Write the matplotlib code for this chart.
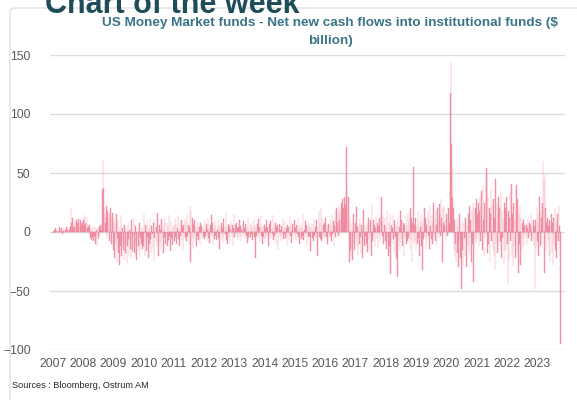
import datetime
import matplotlib
matplotlib.use("Agg")
import matplotlib.pyplot as plt
import matplotlib.dates as mdates
from matplotlib.patches import FancyBboxPatch

plt.rcParams['font.family'] = ['Liberation Sans', 'DejaVu Sans']

# weekly net new cash (USD bn), one list per calendar year
flows_2007 = [1, -1, 2, 0, 3, -2, 1, 2, -1, 0, 2, 4, -1, 1, 3, 0, -2, 2, 1, 3, 0, 2, -1, 4, 1, 2, 3, 1, 2, 5, 4,
              20, 8, 12, 5, 3, 7, 4, 9, 6, 10, 3, 8, 5, 11, 7, 4, 9, 12, 6, 3, 8]
flows_2008 = [10, 14, 6, 13, 8, 5, 12, 3, 7, 4, -2, 6, -5, 3, -7, 2, -4, 5, -8, -3,
              4, -10, -6, 2, -12, 3, -5, 5, 4, -3, 6, 2, 8, 36, 61, 37, 20, 15, 8, 12,
              22, -5, 18, 10, 15, -8, 14, 20, 12, -10, 16, 8]
flows_2009 = [-15, 12, -22, 8, -10, 15, -25, -5, 10, -18, -28, 5, -12, 14, -20, -8, 3, -15, -24, 6,
              -10, -18, 4, -26, -12, 8, -6, -20, 2, -14, -22, 10, -8, -16, -4, 12, -18, -10, 5, -20,
              -24, -6, 3, -12, -16, 8, -22, -5, -10, 4, -14, -8]
flows_2010 = [-12, 15, -20, 6, -8, -16, 10, -4, -22, 3, -10, 12, -6, -18, 5, -2, -14, 8, -25, -5,
              10, -8, 4, -12, 16, -3, -20, 6, -9, 2, -15, 11, -6, 3, -18, 7, -4, 13, -10, -2,
              8, -12, 5, -7, 14, -3, -16, 9, -5, 2, -11, 6]
flows_2011 = [5, -8, 12, -4, 7, -10, 3, 14, -6, 2, -12, 8, -3, 10, -7, 4, -15, 6, -2, 11,
              -5, 9, -8, 15, -3, 6, -10, 4, 22, -25, 18, -6, 12, -14, 7, -4, 10, -8, 3, -12,
              6, -3, 9, -7, 4, -10, 8, -2, 5, -6, 3, -4]
flows_2012 = [4, -6, 10, -3, 7, -8, 2, 12, -5, 3, -9, 6, -2, 14, -4, 8, -11, 3, -6, 9,
              -3, 5, -7, 2, 10, -5, 4, -14, 6, -2, 8, -6, 3, -9, 11, -4, 5, -2, 16, -7,
              4, -10, 7, -3, 5, -8, 2, 9, -4, 6, -12, 3]
flows_2013 = [15, -4, 6, -2, 8, -5, 3, -7, 4, 10, -3, 5, -8, 2, 6, -4, 9, -2, 3, -6,
              7, -3, 4, -9, 12, -5, 2, 6, -4, 8, -2, 5, -7, 3, 10, -4, 6, -22, 4, -3,
              7, -5, 11, -2, 4, -8, 14, -3, 6, -10, 5, -4]
flows_2014 = [6, -8, 3, -5, 10, -3, 4, -12, 2, 7, -4, 9, -6, 3, -2, 14, -7, 5, -3, 8,
              -10, 4, -2, 6, -15, 3, 7, -4, 2, -8, 5, -3, 11, -6, 4, -2, 9, -5, 3, -12,
              6, -2, 4, -7, 13, -3, 5, -9, 2, 7, -4, 3]
flows_2015 = [10, -5, 3, -8, 6, -2, 12, -4, 5, -10, 3, 8, -6, 4, -3, 15, -7, 2, -5, 9,
              -2, 6, -12, 4, -4, 8, -3, 5, -16, 3, 7, -5, 2, -8, 11, -3, 4, -6, 10, -2,
              -20, 5, 18, -4, 8, -6, 20, -8, 12, -5, 6, -3]
flows_2016 = [8, -6, 12, -4, 5, -10, 3, 7, -5, 10, -3, 6, -8, 14, -2, 9, -12, 5, 18, -4,
              12, 20, 8, 15, -3, 22, 10, 18, 6, 25, 14, 28, 12, 20, 30, 16, 24, 12, 72, 40,
              22, 30, -8, -25, 12, -15, -20, 8, -24, -10, 15, -6]
flows_2017 = [-15, 8, -6, 21, -12, 4, -20, 8, -10, 12, -4, -18, 6, -22, 3, 19, -8, -12, 5, -3,
              -10, 8, -17, 4, 12, -6, -15, 10, -3, -20, 23, -8, 10, -4, 6, -12, 3, 14, -6, 8,
              -14, 5, -2, 12, -8, 16, 30, 9, -3, 14, -10, 6]
flows_2018 = [12, -8, 4, -14, 18, -5, -20, 8, -12, 15, -36, 6, -10, 3, 14, -6, -18, 10, -4, 8,
              -22, 5, -38, 12, -8, 4, -15, 18, -6, 10, -12, 3, 8, -20, 6, -4, 14, -10, 5, -8,
              16, -5, 9, -15, 20, -6, 12, -25, 8, 55, -10, 6]
flows_2019 = [-8, 12, -15, 6, -10, 18, -5, 9, -20, 4, 15, -12, 8, -32, 10, -6, 20, -4, 12, -15,
              6, -8, 18, -3, 10, -14, 22, 5, -6, 14, -10, 8, 25, -4, 12, -8, 18, 6, -12, 20,
              10, -5, 24, 15, -3, 28, 12, -25, 20, 8, 22, 5]
flows_2020 = [10, -8, 15, 5, -3, 12, 20, 8, 35, 118, 144, 75, 55, 30, 20, -15, 10, -20, -10, -25,
              12, -18, 5, -30, -8, 15, -22, -12, -48, 8, -15, -28, 10, -5, -20, 12, -8, -30, 6, -12,
              15, -18, 22, -6, 10, -25, 18, -10, 25, -42, 20, -8]
flows_2021 = [20, -10, 28, -6, 15, 25, -12, 18, 30, -8, 22, 35, -15, 40, 10, -20, 25, -5, 44, 54,
              50, -18, 30, -10, 20, -25, 15, 36, -8, 22, -15, 28, -20, 12, -32, 45, -10, 25, -18, 15,
              30, -12, 20, -8, 35, -22, 18, -5, 12, -28, 25, -15]
flows_2022 = [20, -15, 30, -10, -44, 18, -25, 12, 35, -8, 41, -20, 15, -30, 25, -12, 10, -22, 37, 40,
              -18, 28, -35, 15, -10, 22, -28, 12, -15, 8, -6, 10, -12, 5, 8, -4, 6, -10, 3, 12,
              -5, 8, -3, 6, 15, -8, 4, -6, 10, -12, 5, -48]
flows_2023 = [10, -15, 20, -8, 15, -20, 8, 30, -12, 18, 12, -10, 25, 60, 45, -35, 48, 20, -15, 8,
              12, -8, 5, -20, 10, -25, 6, 15, -18, 8, -28, 12, -10, 20, -15, 8, -22, 10, 15, -8,
              23, 5, -20, -95]

yearly = [flows_2007, flows_2008, flows_2009, flows_2010, flows_2011, flows_2012,
          flows_2013, flows_2014, flows_2015, flows_2016, flows_2017, flows_2018,
          flows_2019, flows_2020, flows_2021, flows_2022, flows_2023]

flows = []
for year_vals in yearly:
    flows.extend(year_vals)

first_week = datetime.date(2007, 1, 5)
weeks = [first_week + datetime.timedelta(weeks=i) for i in range(len(flows))]

years = list(range(2007, 2024))
y_ticks = [-100, -50, 0, 50, 100, 150]

title_col = '#3a7487'
grey_txt = '#595959'
bar_col = '#f2a0b1'

fig = plt.figure(figsize=(5.77, 4.0), dpi=100)

# light card behind the chart
card = FancyBboxPatch((10 / 577, -0.05), 1.2, 1.03, boxstyle="round,pad=0,rounding_size=0.01",
                      transform=fig.transFigure, facecolor='white', edgecolor='#e2e2e2',
                      linewidth=1.0, zorder=-10)
fig.patches.append(card)

fig.text(45 / 577, 1 - 13 / 400, "Chart of the week", fontsize=22, fontweight='bold',
         color='#1e4d59', ha='left', va='baseline')

fig.text(330 / 577, 1 - 23 / 400, "US Money Market funds - Net new cash flows into institutional funds ($",
         fontsize=9.7, fontweight='bold', color=title_col, ha='center', va='center')
fig.text(330 / 577, 1 - 41 / 400, "billion)", fontsize=9.7, fontweight='bold',
         color=title_col, ha='center', va='center')

ax = fig.add_axes([50 / 577, 50 / 400, 515 / 577, 295 / 400])
ax.patch.set_alpha(0)
ax.bar(weeks, flows, width=6, color=bar_col, edgecolor='#ee7a93', linewidth=0.25, zorder=3)

ax.set_ylim(-100, 150)
ax.set_yticks(y_ticks)
ax.set_xlim(datetime.date(2006, 11, 28), datetime.date(2023, 12, 5))
ax.set_xticks([datetime.date(y, 1, 1) for y in years])
ax.xaxis.set_major_formatter(mdates.DateFormatter('%Y'))

ax.grid(axis='y', color='#dcdcdc', linewidth=1.0, zorder=0)
for side in ax.spines:
    ax.spines[side].set_visible(False)
ax.tick_params(axis='both', length=0, labelsize=8.7, colors=grey_txt)
ax.tick_params(axis='y', pad=14)
ax.tick_params(axis='x', pad=6)

fig.text(12 / 577, 1 - 385 / 400, "Sources : Bloomberg, Ostrum AM", fontsize=6.6,
         color='#262626', ha='left', va='center')

fig.savefig("out.png", dpi=100)
